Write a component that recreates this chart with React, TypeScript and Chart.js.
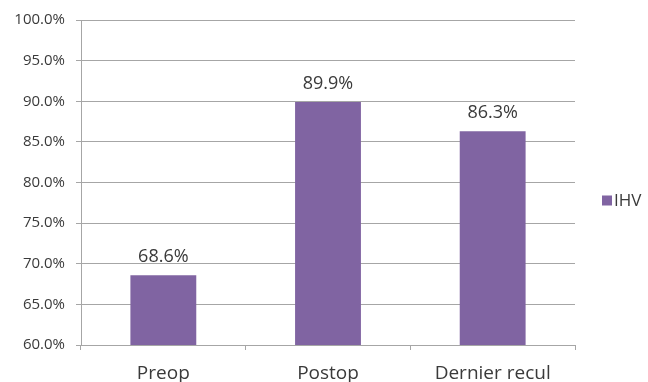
import React, { useEffect, useRef } from "react";
import { Chart, registerables } from "chart.js";

Chart.register(...registerables);

const categories = ["Preop", "Postop", "Dernier recul"];
const seriesName = "IHV";
const values = [68.6, 89.9, 86.3];
const yMin = 60;
const yMax = 100;
const yStep = 5;

const FONT = "'Open Sans', 'Noto Sans', sans-serif";
const TEXT = "#3a3a3a";
const BAR = "#8064A2";

const valueLabels = {
  id: "valueLabels",
  afterDatasetsDraw(chart: any) {
    const ctx = chart.ctx;
    const meta = chart.getDatasetMeta(0);
    ctx.save();
    ctx.font = `18px ${FONT}`;
    ctx.fillStyle = TEXT;
    ctx.textAlign = "center";
    ctx.textBaseline = "alphabetic";
    meta.data.forEach((bar: any, i: number) => {
      ctx.fillText(values[i].toFixed(1) + "%", bar.x, bar.y - 13);
    });
    ctx.restore();
  },
};

const sideLegend = {
  id: "sideLegend",
  afterDraw(chart: any) {
    const ctx = chart.ctx;
    const area = chart.chartArea;
    const x = area.right + 27;
    const y = (area.top + area.bottom) / 2 + 18;
    ctx.save();
    ctx.fillStyle = BAR;
    ctx.fillRect(x, y - 5, 10, 10);
    ctx.font = `17px ${FONT}`;
    ctx.fillStyle = TEXT;
    ctx.textAlign = "left";
    ctx.textBaseline = "middle";
    ctx.fillText(seriesName, x + 12, y + 1);
    ctx.restore();
  },
};

export default function App() {
  const ref = useRef<HTMLCanvasElement>(null);
  useEffect(() => {
    if (!ref.current) return;
    const chart = new Chart(ref.current, {
      type: "bar",
      data: {
        labels: categories,
        datasets: [
          {
            label: seriesName,
            data: values,
            backgroundColor: BAR,
            borderWidth: 0,
            categoryPercentage: 1,
            barPercentage: 0.4,
          },
        ],
      },
      options: {
        responsive: false,
        animation: false,
        layout: { padding: { top: 20, right: 73, bottom: 0, left: 0 } },
        plugins: {
          tooltip: { enabled: false },
          legend: { display: false },
        },
        scales: {
          x: {
            offset: true,
            afterFit: (s: any) => {
              s.height = 37;
            },
            grid: {
              offset: true,
              drawOnChartArea: false,
              drawTicks: true,
              tickLength: 5,
              color: "#A6A6A6",
            },
            border: { color: "#A6A6A6" },
            ticks: { font: { family: FONT, size: 19 }, color: TEXT, padding: 12 },
          },
          y: {
            min: yMin,
            max: yMax,
            afterFit: (s: any) => {
              s.width = 81;
            },
            grid: { color: "#A6A6A6", tickLength: 5 },
            border: { color: "#A6A6A6" },
            ticks: {
              stepSize: yStep,
              font: { family: FONT, size: 15 },
              color: TEXT,
              padding: 11,
              callback: (v: any) => Number(v).toFixed(1) + "%",
            },
          },
        },
      },
      plugins: [valueLabels, sideLegend],
    });
    return () => chart.destroy();
  }, []);
  return (
    <div style={{ position: "fixed", left: 0, top: 0, width: 648, height: 382, background: "#fff" }}>
      <canvas ref={ref} width={648} height={382} />
    </div>
  );
}
